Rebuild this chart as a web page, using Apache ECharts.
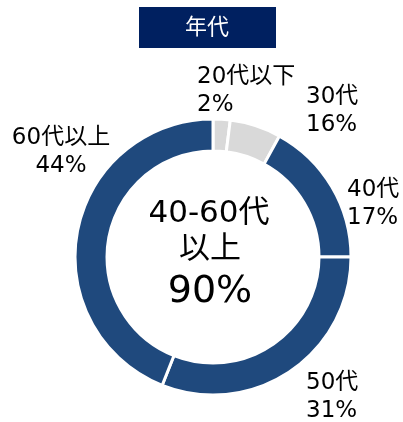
<!DOCTYPE html>
<html>
<head>
<meta charset="utf-8">
<script src="https://cdn.jsdelivr.net/npm/echarts@6/dist/echarts.min.js"></script>
<style>
html,body{margin:0;padding:0;background:#fff;}
#chart{width:403px;height:422px;}
</style>
</head>
<body>
<div id="chart"></div>
<script>
// Data
var categories = ['20代以下', '30代', '40代', '50代', '60代以上'];
var arcValues = [2, 6, 17, 31, 44];          // arc shares as drawn
var labelPercents = [2, 16, 17, 31, 44];     // percentages as printed on labels
var colors = ['#d9d9d9', '#d9d9d9', '#1f497d', '#1f497d', '#1f497d'];
var titleText = '年代';
var centerLines = ['40-60代', '以上', '90%'];

// Label layout (positions only)
var labelPos = [
  {x: 197, y: 91, align: 'left'},
  {x: 306, y: 111, align: 'left'},
  {x: 347, y: 204, align: 'left'},
  {x: 306, y: 397, align: 'left'},
  {x: 61, y: 152, align: 'center'}
];

var FONT = '"DejaVu Sans", "Noto Sans CJK JP", sans-serif';
var chart = echarts.init(document.getElementById('chart'), null, {renderer: 'canvas'});

var data = categories.map(function (c, i) {
  return {
    name: c,
    value: arcValues[i],
    itemStyle: {color: colors[i]},
    label: {align: labelPos[i].align}
  };
});

chart.setOption({
  animation: false,
  graphic: [
    {
      type: 'rect',
      shape: {x: 139, y: 7, width: 137, height: 41},
      style: {fill: '#002060'}
    },
    {
      type: 'text',
      x: 207, y: 28,
      style: {text: titleText, fill: '#ffffff', font: '22px ' + FONT, textAlign: 'center', textVerticalAlign: 'middle'}
    },
    {
      type: 'text',
      x: 209, y: 214,
      style: {text: centerLines[0], fill: '#000', font: '31px ' + FONT, textAlign: 'center', textVerticalAlign: 'middle'}
    },
    {
      type: 'text',
      x: 210, y: 250,
      style: {text: centerLines[1], fill: '#000', font: '31px ' + FONT, textAlign: 'center', textVerticalAlign: 'middle'}
    },
    {
      type: 'text',
      x: 210, y: 292,
      style: {text: centerLines[2], fill: '#000', font: '38px ' + FONT, textAlign: 'center', textVerticalAlign: 'middle'}
    }
  ],
  series: [{
    type: 'pie',
    center: [213, 257],
    radius: [106, 138],
    startAngle: 90,
    clockwise: true,
    avoidLabelOverlap: false,
    itemStyle: {borderColor: '#ffffff', borderWidth: 3},
    label: {
      show: true,
      position: 'outside',
      fontFamily: FONT,
      fontSize: 23,
      lineHeight: 28,
      color: '#000',
      formatter: function (p) {
        return p.name + '\n' + labelPercents[p.dataIndex] + '%';
      }
    },
    labelLine: {show: false},
    labelLayout: function (params) {
      var lp = labelPos[params.dataIndex];
      return {x: lp.x, y: lp.y, align: lp.align, verticalAlign: 'middle', hideOverlap: false};
    },
    emphasis: {disabled: true},
    data: data
  }]
});
</script>
</body>
</html>
